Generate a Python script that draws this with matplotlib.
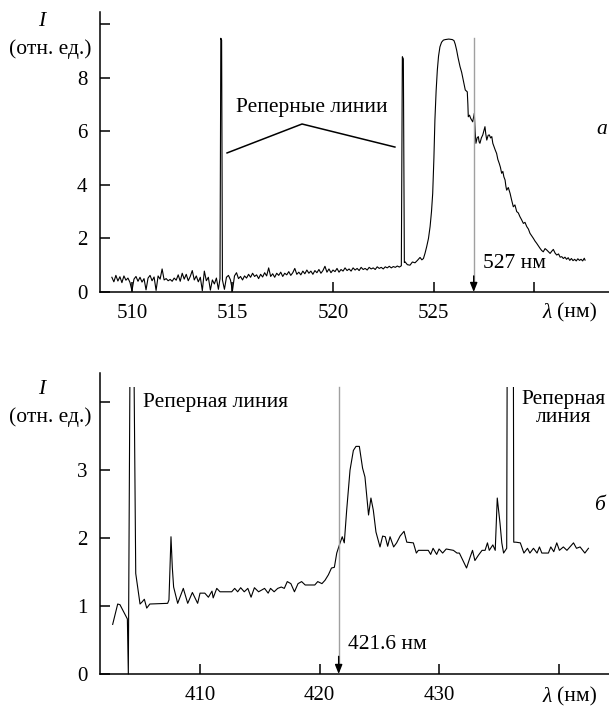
import numpy as np
import matplotlib
matplotlib.use("Agg")
import matplotlib.pyplot as plt
from matplotlib.patches import Rectangle

plt.rcParams['font.family'] = ['Liberation Serif', 'DejaVu Serif']

# %% panel a: spectrum around 527 nm
a_base_start, a_base_step = 509.0, 0.1
a_base_1 = [0.55, 0.38, 0.62, 0.41, 0.57, 0.35, 0.60, 0.44, 0.52, 0.36,
            0.05, 0.48, 0.58, 0.40, 0.55, 0.37, 0.50, 0.08, 0.52, 0.62,
            0.42, 0.56, 0.06, 0.60, 0.48, 0.86, 0.45, 0.50, 0.42, 0.47,
            0.40, 0.52, 0.44, 0.64, 0.40, 0.70, 0.48, 0.66, 0.42, 0.58,
            0.80, 0.45, 0.60, 0.38, 0.55, 0.05, 0.78, 0.42, 0.55, 0.07,
            0.45, 0.30, 0.52, 0.10]
a_ref1_wl = [514.38, 514.42, 514.46, 514.50]
a_ref1_int = [0.50, 9.47, 9.40, 0.45]
a_base_2_start = 514.6
a_base_2 = [0.10, 0.55, 0.62, 0.45, 0.05, 0.60, 0.72, 0.50, 0.58, 0.45,
            0.60, 0.52, 0.66, 0.55, 0.70, 0.58, 0.64, 0.50, 0.66, 0.56,
            0.72, 0.60, 0.90, 0.58, 0.68, 0.55, 0.70, 0.62, 0.74, 0.58,
            0.70, 0.64, 0.76, 0.62, 0.72, 0.88, 0.66, 0.74, 0.64, 0.78,
            0.68, 0.82, 0.70, 0.78, 0.66, 0.80, 0.72, 0.84, 0.70, 0.80,
            0.96, 0.74, 0.86, 0.72, 0.82, 0.76, 0.88, 0.74, 0.84, 0.78,
            0.90, 0.80, 0.86, 0.78, 0.90, 0.82, 0.88, 0.80, 0.92, 0.84,
            0.88, 0.82, 0.92, 0.86, 0.90, 0.84, 0.94, 0.88, 0.92, 0.86,
            0.94, 0.90, 0.96, 0.90, 0.95, 0.92, 0.97, 0.93, 0.98]
a_band_wl = [523.45, 523.50, 523.55, 523.58, 523.70, 523.83, 523.95, 524.08, 524.20, 524.33,
             524.42, 524.50, 524.58, 524.66, 524.75, 524.83, 524.90, 524.96, 525.02, 525.07,
             525.13, 525.19, 525.25, 525.32, 525.40, 525.49, 525.58, 525.66, 525.76, 525.86,
             525.94, 526.02, 526.08, 526.15, 526.22, 526.32, 526.40, 526.48, 526.58, 526.68,
             526.71, 526.73, 526.79, 526.85, 526.95, 527.03, 527.07, 527.11, 527.17, 527.23,
             527.27, 527.31, 527.38, 527.45, 527.50, 527.56, 527.60, 527.65, 527.72, 527.78,
             527.84, 527.90, 527.95, 528.01, 528.07, 528.14, 528.20, 528.27, 528.33, 528.39,
             528.45, 528.50, 528.56, 528.60, 528.64, 528.72, 528.81, 528.88, 528.97, 529.05,
             529.14, 529.22, 529.30, 529.38, 529.47, 529.55, 529.64, 529.72, 529.80, 529.88,
             529.97, 530.05, 530.13, 530.22, 530.30, 530.38, 530.46, 530.55, 530.63, 530.72,
             530.80, 530.88, 530.96, 531.05, 531.13, 531.22, 531.30, 531.38, 531.46, 531.54,
             531.62, 531.70, 531.78, 531.86, 531.94, 532.02, 532.10, 532.18, 532.26, 532.34,
             532.42, 532.50, 532.54]
a_band_int = [8.78, 8.70, 1.10, 1.13, 1.02, 1.00, 1.12, 1.09, 1.18, 1.29,
              1.20, 1.25, 1.45, 1.69, 2.00, 2.44, 3.00, 3.68, 5.00, 6.42,
              7.50, 8.28, 8.80, 9.15, 9.32, 9.40, 9.42, 9.43, 9.44, 9.43,
              9.42, 9.38, 9.25, 9.03, 8.75, 8.41, 8.20, 7.91, 7.54, 7.47,
              7.00, 6.54, 6.60, 6.48, 6.35, 6.67, 6.00, 5.55, 5.75, 5.80,
              5.60, 5.55, 5.75, 5.86, 6.00, 6.17, 5.90, 5.67, 5.85, 5.86,
              5.75, 5.80, 5.55, 5.42, 5.30, 5.17, 4.95, 4.80, 4.65, 4.43,
              4.50, 4.30, 4.18, 3.95, 3.80, 3.90, 3.68, 3.45, 3.18, 3.25,
              3.00, 2.95, 2.81, 2.70, 2.56, 2.60, 2.44, 2.35, 2.19, 2.10,
              2.00, 1.90, 1.82, 1.72, 1.63, 1.55, 1.50, 1.62, 1.57, 1.50,
              1.44, 1.52, 1.59, 1.45, 1.38, 1.42, 1.30, 1.32, 1.25, 1.30,
              1.22, 1.28, 1.18, 1.25, 1.17, 1.22, 1.16, 1.24, 1.18, 1.22,
              1.16, 1.26, 1.19]
a_marker = 527.0

# %% panel b: spectrum around 421.6 nm
b_wl = [402.69, 403.11, 403.30, 403.92, 404.00, 404.14, 404.47, 404.62, 404.98, 405.15,
        405.34, 405.54, 405.80, 407.29, 407.40, 407.57, 407.68, 407.79, 408.13, 408.60,
        408.97, 409.36, 409.80, 410.00, 410.40, 410.70, 411.00, 411.10, 411.40, 411.67,
        412.65, 412.90, 413.15, 413.40, 413.70, 414.00, 414.27, 414.55, 414.90, 415.40,
        415.70, 415.90, 416.20, 416.50, 416.80, 417.05, 417.30, 417.60, 417.90, 418.20,
        418.50, 418.80, 419.60, 419.85, 420.20, 420.46, 420.74, 421.00, 421.24, 421.44,
        421.70, 421.90, 422.07, 422.27, 422.55, 422.83, 423.05, 423.33, 423.60, 423.80,
        424.10, 424.30, 424.50, 424.72, 425.06, 425.28, 425.50, 425.70, 425.90, 426.20,
        426.45, 426.74, 427.07, 427.30, 427.85, 428.10, 428.27, 429.10, 429.30, 429.50,
        429.80, 430.00, 430.30, 430.60, 431.20, 431.50, 431.70, 432.00, 432.30, 432.60,
        432.80, 433.00, 433.30, 433.60, 433.85, 434.05, 434.20, 434.50, 434.70, 434.87,
        435.10, 435.25, 435.40, 435.66, 435.70, 436.22, 436.25, 436.43, 436.80, 437.10,
        437.40, 437.60, 437.90, 438.20, 438.40, 438.60, 439.15, 439.35, 439.60, 439.85,
        440.07, 440.40, 440.70, 441.25, 441.50, 441.80, 442.20, 442.50]
b_int = [0.73, 1.03, 1.02, 0.81, 0.00, 4.60, 4.60, 1.48, 1.03, 1.06,
         1.10, 0.97, 1.03, 1.04, 1.09, 2.02, 1.57, 1.28, 1.04, 1.26,
         1.04, 1.20, 1.04, 1.19, 1.19, 1.13, 1.22, 1.12, 1.26, 1.21,
         1.21, 1.26, 1.21, 1.27, 1.21, 1.26, 1.13, 1.27, 1.21, 1.26,
         1.19, 1.26, 1.21, 1.26, 1.28, 1.26, 1.36, 1.33, 1.21, 1.33,
         1.36, 1.31, 1.31, 1.36, 1.33, 1.38, 1.46, 1.56, 1.57, 1.78,
         1.92, 2.02, 1.93, 2.41, 3.00, 3.29, 3.35, 3.35, 3.03, 2.90,
         2.34, 2.59, 2.41, 2.09, 1.87, 2.03, 2.02, 1.88, 2.02, 1.87,
         1.93, 2.03, 2.10, 1.94, 1.93, 1.78, 1.82, 1.82, 1.76, 1.85,
         1.76, 1.84, 1.78, 1.84, 1.82, 1.78, 1.78, 1.67, 1.56, 1.72,
         1.82, 1.67, 1.75, 1.82, 1.82, 1.93, 1.82, 1.90, 1.82, 2.59,
         2.22, 1.93, 1.78, 1.85, 4.60, 4.60, 1.94, 1.94, 1.93, 1.78,
         1.85, 1.78, 1.85, 1.78, 1.87, 1.78, 1.78, 1.87, 1.80, 1.93,
         1.82, 1.87, 1.82, 1.93, 1.85, 1.87, 1.78, 1.85]
b_marker = 421.6
b_clip = 4.22

FS = 15.5     # annotations
TFS = 15      # tick labels
GREY = '#a0a0a0'


def style_axes(ax):
    for s in ['top', 'right']:
        ax.spines[s].set_visible(False)
    for s in ['left', 'bottom']:
        ax.spines[s].set_linewidth(1.1)
    ax.tick_params(direction='in', length=7, width=1.1, labelsize=TFS, pad=9)


def marker_arrow(ax, x, ytop, ybot, head):
    ax.plot([x, x], [ybot + head * 0.5, ytop], color=GREY, lw=1.0, zorder=4)
    ax.annotate('', xy=(x, ybot), xytext=(x, ybot + head),
                arrowprops=dict(arrowstyle='-|>,head_length=0.55,head_width=0.22',
                                color='black', lw=1.0, shrinkA=0, shrinkB=0),
                zorder=5)


fig = plt.figure(figsize=(6.09, 7.08), dpi=100)
W, H = 609, 708

# ---------- panel a
ax1 = fig.add_axes([100 / W, 1 - 292 / H, 509 / W, 280 / H])
wl_1 = a_base_start + a_base_step * np.arange(len(a_base_1))
wl_2 = a_base_2_start + a_base_step * np.arange(len(a_base_2))
a_wl = np.concatenate([wl_1, a_ref1_wl, wl_2, a_band_wl])
a_int = np.concatenate([a_base_1, a_ref1_int, a_base_2, a_band_int])
ax1.plot(a_wl, a_int, color='black', lw=0.8)
ax1.set_xlim(508.41, 533.73)
ax1.set_ylim(0, 10.45)
ax1.set_xticks([510, 515, 520, 525, 530])
ax1.set_xticklabels(['510', '515', '520', '525', ''])
ax1.set_yticks([0, 2, 4, 6, 8, 10])
ax1.set_yticklabels(['0', '2', '4', '6', '8', ''])
style_axes(ax1)
marker_arrow(ax1, a_marker, 9.48, 0, 0.6)
ax1.text(527.45, 1.08, '527 нм', fontsize=FS, va='center', ha='left')
# label of the reference lines
ax1.plot([514.73, 518.46, 523.08], [5.19, 6.27, 5.41], color='black', lw=1.1)
ax1.text(518.96, 6.87, 'Реперные линии', fontsize=FS, ha='center', va='center')

# ---------- panel b
ax2 = fig.add_axes([100 / W, 1 - 674 / H, 509 / W, 301 / H])
line, = ax2.plot(b_wl, b_int, color='black', lw=0.8)
line.set_clip_path(Rectangle((400, -1), 50, 1 + b_clip, transform=ax2.transData))
ax2.set_xlim(401.63, 444.22)
ax2.set_ylim(0, 4.43)
ax2.set_xticks([410, 420, 430, 440])
ax2.set_xticklabels(['410', '420', '430', ''])
ax2.set_yticks([0, 1, 2, 3, 4])
ax2.set_yticklabels(['0', '1', '2', '3', ''])
style_axes(ax2)
marker_arrow(ax2, b_marker, b_clip, 0, 0.26)
ax2.text(422.38, 0.43, '421.6 нм', fontsize=FS, va='center', ha='left')
ax2.text(405.23, 4.0, 'Реперная линия', fontsize=FS, ha='left', va='center')
ax2.text(440.4, 3.91, 'Реперная\nлиния', fontsize=FS, ha='center', va='center',
         linespacing=0.95)

# axis titles, panel letters
for ytop in [22, 390]:
    fig.text(42 / W, 1 - ytop / H, 'I', fontsize=FS, style='italic', ha='center', va='center')
    fig.text(50 / W, 1 - (ytop + 27) / H, '(отн. ед.)', fontsize=FS, ha='center', va='center')
for yl in [313, 697]:
    fig.text(543 / W, 1 - yl / H, 'λ', fontsize=FS, style='italic', ha='left', va='center')
    fig.text(557 / W, 1 - yl / H, '(нм)', fontsize=FS, ha='left', va='center')
fig.text(596 / W, 1 - 130 / H, 'а', fontsize=FS, style='italic', ha='left', va='center')
fig.text(594 / W, 1 - 505 / H, 'б', fontsize=FS, style='italic', ha='left', va='center')

fig.savefig('out.png', dpi=100)
